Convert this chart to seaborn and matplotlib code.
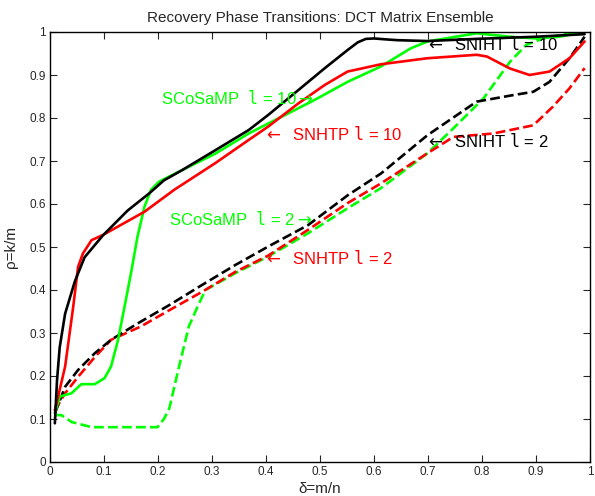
import pandas as pd
import seaborn as sns
import matplotlib
matplotlib.use("Agg")
import matplotlib.pyplot as plt

# SNIHT l=10 (black solid)
sniht10_d = [0.009, 0.013, 0.018, 0.028, 0.046, 0.064, 0.098, 0.144, 0.184, 0.211, 0.245, 0.306,
             0.368, 0.404, 0.46, 0.509, 0.551, 0.57, 0.585, 0.60, 0.62, 0.643, 0.699, 0.79, 0.9, 0.99]
sniht10_r = [0.09, 0.19, 0.267, 0.345, 0.42, 0.476, 0.527, 0.585, 0.625, 0.655, 0.679, 0.725,
             0.772, 0.807, 0.865, 0.916, 0.958, 0.976, 0.984, 0.985, 0.983, 0.981, 0.979, 0.984, 0.989, 0.995]

# SNHTP l=10 (red solid)
snhtp10_d = [0.009, 0.028, 0.043, 0.052, 0.061, 0.077, 0.098, 0.175, 0.23, 0.306, 0.368, 0.404,
             0.46, 0.509, 0.551, 0.613, 0.699, 0.79, 0.809, 0.852, 0.888, 0.925, 0.962, 0.99]
snhtp10_r = [0.12, 0.222, 0.361, 0.454, 0.485, 0.516, 0.528, 0.582, 0.633, 0.695, 0.749, 0.78,
             0.834, 0.877, 0.908, 0.925, 0.939, 0.947, 0.943, 0.915, 0.9, 0.908, 0.939, 0.978]

# SCoSaMP l=10 (green solid)
scosamp10_d = [0.009, 0.018, 0.04, 0.058, 0.083, 0.101, 0.113, 0.126, 0.138, 0.15, 0.162, 0.175,
               0.187, 0.202, 0.245, 0.306, 0.368, 0.429, 0.49, 0.551, 0.613, 0.668, 0.699, 0.79,
               0.852, 0.9, 0.943, 0.99]
scosamp10_r = [0.113, 0.152, 0.16, 0.181, 0.181, 0.195, 0.222, 0.284, 0.361, 0.439, 0.524, 0.594,
               0.633, 0.652, 0.679, 0.717, 0.764, 0.803, 0.842, 0.884, 0.92, 0.962, 0.978, 0.997,
               0.989, 0.985, 0.989, 1.0]

# SNIHT l=2 (black dashed)
sniht2_d = [0.009, 0.028, 0.052, 0.083, 0.113, 0.162, 0.221, 0.282, 0.343, 0.404, 0.478, 0.551,
            0.613, 0.699, 0.79, 0.852, 0.895, 0.925, 0.962, 0.99]
sniht2_r = [0.113, 0.175, 0.214, 0.253, 0.284, 0.322, 0.365, 0.412, 0.458, 0.501, 0.551, 0.62,
            0.671, 0.76, 0.838, 0.852, 0.861, 0.884, 0.939, 0.989]

# SNHTP l=2 (red dashed)
snhtp2_d = [0.009, 0.028, 0.052, 0.083, 0.113, 0.168, 0.221, 0.282, 0.343, 0.404, 0.478, 0.551,
            0.613, 0.699, 0.747, 0.821, 0.895, 0.931, 0.962, 0.99]
snhtp2_r = [0.12, 0.16, 0.198, 0.244, 0.284, 0.315, 0.353, 0.396, 0.442, 0.48, 0.54, 0.602,
            0.648, 0.718, 0.756, 0.764, 0.783, 0.826, 0.869, 0.916]

# SCoSaMP l=2 (green dashed)
scosamp2_d = [0.009, 0.021, 0.04, 0.077, 0.144, 0.199, 0.211, 0.221, 0.239, 0.257, 0.276, 0.288,
              0.343, 0.404, 0.478, 0.551, 0.613, 0.699, 0.747, 0.803, 0.852, 0.882, 0.913, 0.974, 0.99]
scosamp2_r = [0.109, 0.109, 0.093, 0.081, 0.081, 0.081, 0.1, 0.125, 0.222, 0.315, 0.369, 0.4,
              0.439, 0.478, 0.532, 0.59, 0.637, 0.718, 0.776, 0.846, 0.931, 0.97, 0.985, 1.0, 1.0]

curves = [
    (scosamp2_d, scosamp2_r, "#00ff00", "--"),
    (snhtp2_d, snhtp2_r, "#ff0000", "--"),
    (sniht2_d, sniht2_r, "black", "--"),
    (scosamp10_d, scosamp10_r, "#00ff00", "-"),
    (snhtp10_d, snhtp10_r, "#ff0000", "-"),
    (sniht10_d, sniht10_r, "black", "-"),
]

ticks = [0, 0.1, 0.2, 0.3, 0.4, 0.5, 0.6, 0.7, 0.8, 0.9, 1]
tick_labels = ["0", "0.1", "0.2", "0.3", "0.4", "0.5", "0.6", "0.7", "0.8", "0.9", "1"]

L = r"$\mathtt{l}$"
LA = r"$\leftarrow$"
RA = r"$\rightarrow$"
notes = [
    (0.206, 0.847, "SCoSaMP  " + L + " = 10" + RA, "#00ff00"),
    (0.395, 0.763, LA + "  SNHTP " + L + " = 10", "#ff0000"),
    (0.695, 0.972, LA + "  SNIHT " + L + " = 10", "black"),
    (0.695, 0.747, LA + "  SNIHT " + L + " = 2", "black"),
    (0.221, 0.565, "SCoSaMP  " + L + " = 2" + RA, "#00ff00"),
    (0.395, 0.474, LA + "  SNHTP " + L + " = 2", "#ff0000"),
]

sns.set_style("white")
plt.rcParams["font.family"] = ["Liberation Sans", "DejaVu Sans"]

fig = plt.figure(figsize=(5.95, 4.96), dpi=100)
ax = fig.add_axes([50 / 595, 34 / 496, 540 / 595, 430 / 496])

for d, r, c, ls in curves:
    line_df = pd.DataFrame({"delta": d, "rho": r})
    sns.lineplot(data=line_df, x="delta", y="rho", color=c, linestyle=ls,
                 linewidth=1.9, sort=False, estimator=None, ax=ax)

for x, y, s, c in notes:
    ax.text(x, y, s, color=c, fontsize=12, ha="left", va="center")

ax.set_xlim(0, 1)
ax.set_ylim(0, 1)
ax.set_xticks(ticks)
ax.set_xticklabels(tick_labels)
ax.set_yticks(ticks)
ax.set_yticklabels(tick_labels)
ax.tick_params(direction="in", length=5, width=0.8, labelsize=8.5,
               top=True, right=True, bottom=True, left=True, pad=3)
for sp in ax.spines.values():
    sp.set_color("black")
    sp.set_linewidth(1.0)

ax.set_title("Recovery Phase Transitions: DCT Matrix Ensemble", fontsize=11, pad=7)
ax.set_xlabel("\u03b4=m/n", fontsize=11, labelpad=3)
ax.set_ylabel("\u03c1=k/m", fontsize=11, labelpad=8)

fig.savefig("out.png", dpi=100)
